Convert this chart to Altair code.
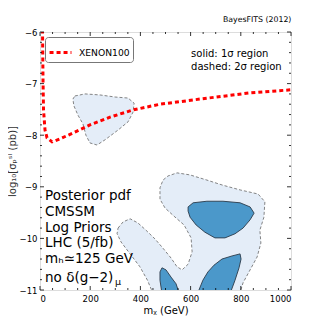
import altair as alt
import pandas as pd

# ---------------- data ----------------
# XENON100 limit
xenon_x = [10, 12, 14, 20, 28, 48, 80, 139, 199, 279, 371, 478, 637, 837, 1000]
xenon_y = [-5.95, -6.93, -7.51, -7.90, -8.05, -8.13, -8.07, -7.94, -7.80, -7.65, -7.51, -7.40, -7.30, -7.18, -7.12]

# 2-sigma region, small upper island
r2a_x = [139, 179, 239, 299, 351, 375, 371, 351, 311, 259, 227, 199, 183, 171, 151, 135, 131]
r2a_y = [-7.24, -7.20, -7.22, -7.26, -7.28, -7.38, -7.55, -7.74, -7.90, -8.09, -8.19, -8.15, -8.00, -7.78, -7.61, -7.43, -7.30]

# 2-sigma region, large lower area
r2b_x = [311, 331, 359, 390, 422, 458, 490, 522, 546, 566, 590, 606, 602, 574, 534, 498, 478, 478, 490, 510,
         546, 598, 665, 729, 797, 869, 896, 892, 876, 880, 865, 837, 809, 794, 453, 428, 398, 359, 323, 307]
r2b_y = [-9.80, -9.68, -9.62, -9.70, -9.84, -10.01, -10.19, -10.38, -10.55, -10.61, -10.50, -10.26, -9.99, -9.74,
         -9.57, -9.41, -9.24, -9.02, -8.87, -8.79, -8.73, -8.77, -8.87, -8.97, -9.06, -9.14, -9.29, -9.59, -9.84,
         -10.09, -10.36, -10.61, -10.86, -11.1, -11.1, -10.81, -10.55, -10.30, -10.07, -9.91]

# 1-sigma regions
r1a_x = [590, 610, 665, 729, 797, 837, 853, 837, 809, 777, 737, 697, 657, 622, 598, 590]
r1a_y = [-9.39, -9.31, -9.28, -9.28, -9.31, -9.39, -9.51, -9.64, -9.80, -9.91, -9.99, -9.99, -9.88, -9.74, -9.59, -9.47]

r1b_x = [625, 649, 669, 693, 725, 765, 797, 801, 793, 777, 755]
r1b_y = [-11.1, -10.81, -10.65, -10.52, -10.40, -10.34, -10.30, -10.40, -10.57, -10.81, -11.1]

r1c_x = [487, 478, 478, 486, 502, 522, 542, 557]
r1c_y = [-11.1, -10.81, -10.65, -10.57, -10.61, -10.75, -10.88, -11.1]

x_major = [0, 200, 400, 600, 800, 1000]
x_minor = [v for v in range(0, 1001, 50) if v % 200 != 0]
y_major = [-11, -10, -9, -8, -7, -6]
y_minor = [round(-11 + 0.2 * k, 1) for k in range(26) if k % 5 != 0]

info_lines = ["Posterior pdf", "CMSSM", "Log Priors", "LHC (5/fb)", "mₕ≃125 GeV", "no δ(g−2)"]
info_y = [-9.256, -9.566, -9.876, -10.167, -10.477, -10.845]
region_lines = ["solid: 1σ region", "dashed: 2σ region"]
region_y = [-6.43, -6.68]

FONT = "DejaVu Sans"
LIGHT = "#e4edf8"
DARK = "#4b98ca"
W, H = 251, 258


def poly(name, xs, ys):
    xs = list(xs) + [xs[0]]
    ys = list(ys) + [ys[0]]
    return pd.DataFrame({"g": name, "i": range(len(xs)), "x": xs, "y": ys})


xs = alt.Scale(domain=[0, 1000], nice=False, zero=False)
ys = alt.Scale(domain=[-11, -6], nice=False, zero=False)

light_df = pd.concat([poly("a", r2a_x, r2a_y), poly("b", r2b_x, r2b_y)])
dark_df = pd.concat([poly("a", r1a_x, r1a_y), poly("b", r1b_x, r1b_y), poly("c", r1c_x, r1c_y)])

x_enc = alt.X("x:Q", scale=xs, axis=alt.Axis(
    values=x_major, format="d", title="mᵪ (GeV)", grid=False, ticks=False, domain=False,
    labelFontSize=8.5, labelPadding=4, labelFont=FONT, labelColor="black",
    titleFont=FONT, titleFontSize=10, titleFontWeight="normal", titlePadding=3, titleColor="black"))
y_enc = alt.Y("y:Q", scale=ys, axis=alt.Axis(
    values=y_major, format="d", title="log₁₀[σₚˢᴵ (pb)]", grid=False, ticks=False, domain=False,
    labelFontSize=8.5, labelPadding=3, labelFont=FONT, labelColor="black",
    titleFont=FONT, titleFontSize=10, titleFontWeight="normal", titleColor="#333",
    titleX=-28, titleY=H / 2, titleBaseline="middle"))

light = alt.Chart(light_df).mark_line(
    fill=LIGHT, stroke="#666666", strokeDash=[3, 2], strokeWidth=0.8, clip=True
).encode(x=x_enc, y=y_enc, detail="g:N", order="i:Q")

dark = alt.Chart(dark_df).mark_line(
    fill=DARK, stroke="#2a3a4a", strokeWidth=0.9, clip=True
).encode(x=alt.X("x:Q", scale=xs), y=alt.Y("y:Q", scale=ys), detail="g:N", order="i:Q")

xenon_df = pd.DataFrame({"x": xenon_x, "y": xenon_y, "s": "XENON100"})
xenon = alt.Chart(xenon_df).mark_line(
    strokeDash=[4, 3], strokeWidth=3, clip=True
).encode(
    x=alt.X("x:Q", scale=xs), y=alt.Y("y:Q", scale=ys),
    color=alt.Color("s:N", scale=alt.Scale(domain=["XENON100"], range=["red"]),
                    legend=alt.Legend(title=None, orient="none", legendX=5, legendY=5,
                                      strokeColor="#777", fillColor="white", cornerRadius=3,
                                      padding=3, labelFont=FONT, labelFontSize=9.2,
                                      labelColor="black", symbolType="stroke",
                                      symbolStrokeWidth=3, symbolDash=[4, 3], symbolSize=480,
                                      symbolOffset=0, labelOffset=6)),
)

info_df = pd.DataFrame({"x": [20] * len(info_lines), "y": info_y, "t": info_lines})
info = alt.Chart(info_df).mark_text(
    align="left", baseline="alphabetic", font=FONT, fontSize=13.5, color="black"
).encode(x=alt.X("x:Q", scale=xs), y=alt.Y("y:Q", scale=ys), text="t:N")

mu_df = pd.DataFrame({"x": [20], "y": [info_y[-1]], "t": ["μ"]})
mu = alt.Chart(mu_df).mark_text(
    align="left", baseline="alphabetic", font=FONT, fontSize=9.5, color="black", dx=70, dy=3
).encode(x=alt.X("x:Q", scale=xs), y=alt.Y("y:Q", scale=ys), text="t:N")

reg_df = pd.DataFrame({"x": [602] * 2, "y": region_y, "t": region_lines})
reg = alt.Chart(reg_df).mark_text(
    align="left", baseline="middle", font=FONT, fontSize=10, color="black"
).encode(x=alt.X("x:Q", scale=xs), y=alt.Y("y:Q", scale=ys), text="t:N")


# inward ticks
def xticks(vals, length):
    d = pd.DataFrame({"x": vals})
    b = alt.Chart(d).mark_rule(color="black", strokeWidth=0.8).encode(
        x=alt.X("x:Q", scale=xs), y=alt.value(H), y2=alt.value(H - length))
    t = alt.Chart(d).mark_rule(color="black", strokeWidth=0.8).encode(
        x=alt.X("x:Q", scale=xs), y=alt.value(0), y2=alt.value(length))
    return [b, t]


def yticks(vals, length):
    d = pd.DataFrame({"y": vals})
    l = alt.Chart(d).mark_rule(color="black", strokeWidth=0.8).encode(
        y=alt.Y("y:Q", scale=ys), x=alt.value(0), x2=alt.value(length))
    r = alt.Chart(d).mark_rule(color="black", strokeWidth=0.8).encode(
        y=alt.Y("y:Q", scale=ys), x=alt.value(W), x2=alt.value(W - length))
    return [l, r]


ticks = xticks(x_major, 4) + xticks(x_minor, 2) + yticks(y_major, 4) + yticks(y_minor, 2)

chart = alt.layer(light, dark, xenon, info, mu, reg, *ticks).properties(
    width=W, height=H,
    title=alt.TitleParams("BayesFITS (2012)", anchor="end", font=FONT, fontSize=7.8,
                          fontWeight="normal", color="black", offset=4),
    autosize=alt.AutoSizeParams(type="none"),
    padding={"left": 32, "top": 24, "right": 25, "bottom": 26},
).configure_view(stroke="black", strokeWidth=1.2).configure(background="white")

chart.save("out.html", embed_options={"renderer": "svg", "actions": False})
